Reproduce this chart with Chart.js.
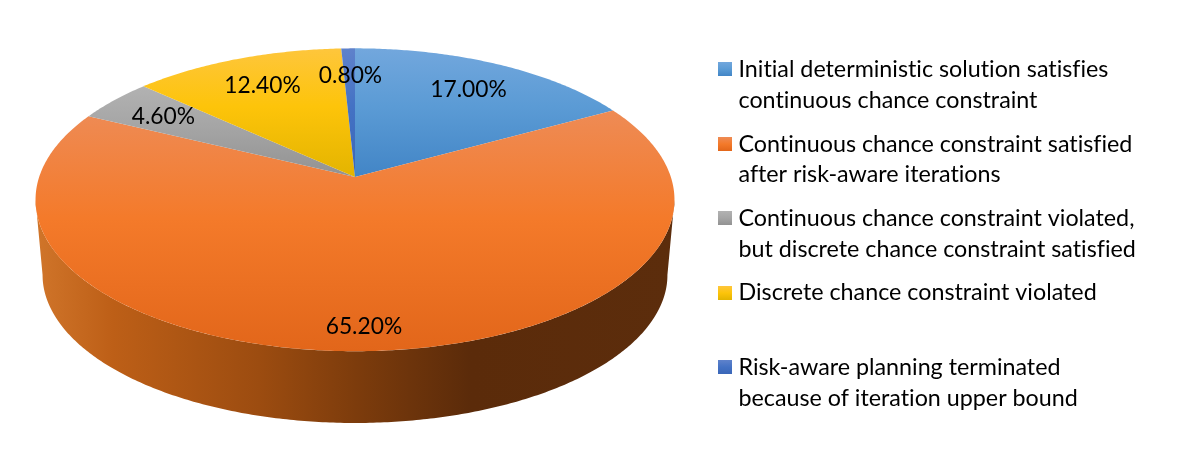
<!DOCTYPE html>
<html>
<head>
<meta charset="utf-8">
<script src="https://cdn.jsdelivr.net/npm/chart.js@4"></script>
<style>
  html, body { margin: 0; background: #fff; }
  canvas { display: block; }
</style>
</head>
<body>
<canvas id="pie" width="1187" height="473"></canvas>
<script>
const categories = [
  ["Initial deterministic solution satisfies", "continuous chance constraint"],
  ["Continuous chance constraint satisfied", "after risk-aware iterations"],
  ["Continuous chance constraint violated,", "but discrete chance constraint satisfied"],
  ["Discrete chance constraint violated"],
  ["Risk-aware planning terminated", "because of iteration upper bound"]
];
const shares = [17.0, 65.2, 4.6, 12.4, 0.8];
const valueLabels = ["17.00%", "65.20%", "4.60%", "12.40%", "0.80%"];
const baseColors = ["#5b9bd5", "#f47a2a", "#a5a5a5", "#fdc40a", "#4472c4"];
const lightColors = ["#72a7dd", "#ee8b55", "#b2b2b2", "#fec63c", "#5f82cb"];
const darkColors = ["#4285c6", "#e2661a", "#929292", "#e3b400", "#3a66b8"];

// fake 3d: the circle is pushed through a small perspective
const tilt = 0.1504;
const stretchX = 2.134;
const depthY = 75.6;
const depthScale = 0.978;
const labelReach = [0.79, 0.85, 0.8, 0.79, 0.8];
const valueFont = "22.8px Lato";
const legendFont = "23.3px Lato";
const legendBoxTops = [62, 137, 211, 286, 360];
const legendBaselines = [[77, 107.5], [151.5, 182], [225.5, 256.5], [300], [374.5, 405.5]];

function project(el, angle, lower) {
  const u = Math.cos(angle), v = Math.sin(angle);
  const w = 1 - tilt * v;
  const s = lower ? depthScale : 1;
  return {
    x: el.x + s * el.outerRadius * stretchX * u / w,
    y: el.y + (lower ? depthY : 0) + s * el.outerRadius * v / w
  };
}

function slicePoints(el, from, to, lower) {
  const pts = [];
  const n = Math.max(2, Math.ceil((to - from) / 0.01));
  for (let i = 0; i <= n; i++) pts.push(project(el, from + (to - from) * i / n, lower));
  return pts;
}

const pie3d = {
  id: "pie3d",
  beforeDatasetDraw(chart) {
    const ctx = chart.ctx;
    const arcs = chart.getDatasetMeta(0).data;
    ctx.save();

    // outer wall, only the part facing us
    const edge = Math.asin(tilt);
    const wall = ctx.createLinearGradient(36, 0, 675, 0);
    wall.addColorStop(0, "#d0752a");
    wall.addColorStop(0.12, "#bd5f17");
    wall.addColorStop(0.35, "#9c4c10");
    wall.addColorStop(0.5, "#7d3c0c");
    wall.addColorStop(0.68, "#5b2b0a");
    wall.addColorStop(1, "#5c2d0c");
    arcs.forEach((el) => {
      const from = Math.max(el.startAngle, edge);
      const to = Math.min(el.endAngle, Math.PI - edge);
      if (to <= from) return;
      const pts = slicePoints(el, from, to, true).concat(slicePoints(el, from, to, false).reverse());
      ctx.beginPath();
      pts.forEach((p, i) => (i ? ctx.lineTo(p.x, p.y) : ctx.moveTo(p.x, p.y)));
      ctx.closePath();
      ctx.fillStyle = wall;
      ctx.fill();
    });

    // top faces
    arcs.forEach((el, i) => {
      const pts = slicePoints(el, el.startAngle, el.endAngle, false);
      const ys = pts.map((p) => p.y).concat(el.y);
      const g = ctx.createLinearGradient(0, Math.min(...ys), 0, Math.max(...ys));
      g.addColorStop(0, lightColors[i]);
      g.addColorStop(0.45, baseColors[i]);
      g.addColorStop(1, darkColors[i]);
      ctx.beginPath();
      ctx.moveTo(el.x, el.y);
      pts.forEach((p) => ctx.lineTo(p.x, p.y));
      ctx.closePath();
      ctx.fillStyle = g;
      ctx.fill();
    });

    // value labels
    ctx.fillStyle = "#000";
    ctx.font = valueFont;
    ctx.textAlign = "center";
    ctx.textBaseline = "middle";
    arcs.forEach((el, i) => {
      const mid = (el.startAngle + el.endAngle) / 2;
      const c = project(el, mid, false);
      const x = el.x + (c.x - el.x) * labelReach[i];
      const y = el.y + (c.y - el.y) * labelReach[i];
      ctx.fillText(valueLabels[i], x + 1, y + 1.5);
    });

    // legend, tiny spacing keeps the ti and fi ligatures of Lato off
    ctx.font = legendFont;
    ctx.letterSpacing = "-0.01px";
    ctx.textAlign = "left";
    ctx.textBaseline = "alphabetic";
    categories.forEach((lines, i) => {
      const top = legendBoxTops[i];
      const g = ctx.createLinearGradient(0, top, 0, top + 14);
      g.addColorStop(0, lightColors[i]);
      g.addColorStop(0.5, baseColors[i]);
      g.addColorStop(1, darkColors[i]);
      ctx.fillStyle = g;
      ctx.fillRect(718, top, 14, 14);
      ctx.fillStyle = "#000";
      lines.forEach((line, j) => ctx.fillText(line, 738.5, legendBaselines[i][j]));
    });

    ctx.restore();
    return false;
  }
};

new Chart(document.getElementById("pie"), {
  type: "pie",
  data: {
    labels: categories.map((c) => c.join(" ")),
    datasets: [{ data: shares, backgroundColor: baseColors, borderWidth: 0 }]
  },
  options: {
    responsive: false,
    animation: false,
    layout: { padding: { left: 207, right: 684, top: 29, bottom: 148 } },
    plugins: { legend: { display: false }, tooltip: { enabled: false } }
  },
  plugins: [pie3d]
});
</script>
</body>
</html>
